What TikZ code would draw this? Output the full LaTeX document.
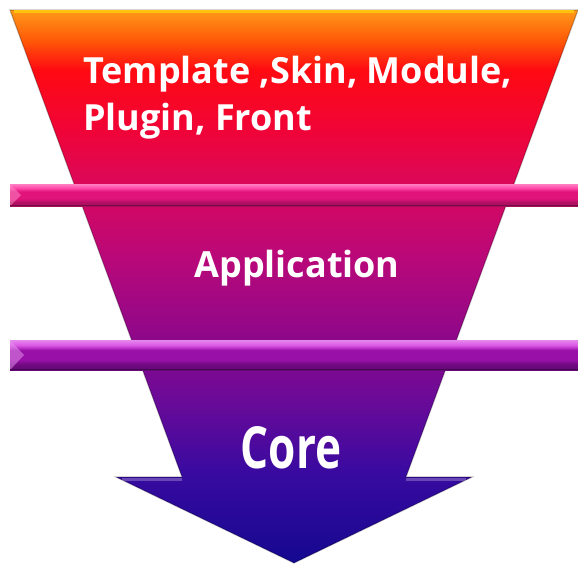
\documentclass[tikz,border=0pt]{standalone}
\usepackage{fontspec}
\newfontfamily\labelfont{Open Sans}
\newfontfamily\corefont[FakeStretch=0.76]{Open Sans}
\definecolor{f0}{HTML}{FF9A18}
\definecolor{f1}{HTML}{FF5A08}
\definecolor{f2}{HTML}{FF0A12}
\definecolor{f3}{HTML}{F00438}
\definecolor{f4}{HTML}{D8085E}
\definecolor{f5}{HTML}{B8087A}
\definecolor{f6}{HTML}{920888}
\definecolor{f7}{HTML}{6A0A98}
\definecolor{f8}{HTML}{3A0AA0}
\definecolor{f9}{HTML}{140890}
\definecolor{b1hi}{HTML}{FF48A8}
\definecolor{b1mid}{HTML}{E0147A}
\definecolor{b1lo}{HTML}{A80E5E}
\definecolor{b2hi}{HTML}{DA55E4}
\definecolor{b2mid}{HTML}{9810A8}
\definecolor{b2lo}{HTML}{640876}
\pgfdeclareverticalshading{funnelshade}{100bp}{color(0bp)=(f9); color(25bp)=(f9); color(33.4bp)=(f8); color(39.7bp)=(f7); color(46.1bp)=(f6); color(52.4bp)=(f5); color(58.7bp)=(f4); color(64.1bp)=(f3); color(69.6bp)=(f2); color(72.3bp)=(f1); color(75bp)=(f0); color(100bp)=(f0)}
\pgfdeclareverticalshading{barone}{100bp}{color(0bp)=(b1lo); color(25bp)=(b1lo); color(34bp)=(b1lo!80!b1mid); color(42bp)=(b1mid); color(58bp)=(b1mid); color(66bp)=(b1hi); color(75bp)=(b1hi!70!white); color(100bp)=(b1hi!70!white)}
\pgfdeclareverticalshading{bartwo}{100bp}{color(0bp)=(b2lo); color(25bp)=(b2lo); color(34bp)=(b2lo!80!b2mid); color(42bp)=(b2mid); color(58bp)=(b2mid); color(66bp)=(b2hi); color(75bp)=(b2hi!70!white); color(100bp)=(b2hi!70!white)}
\tikzset{
  lbl/.style={text=white, inner sep=0pt, font=\labelfont\bfseries\fontsize{36}{40}\selectfont},
  corelbl/.style={text=white, inner sep=0pt, font=\corefont\bfseries\fontsize{58}{62}\selectfont},
  edgeline/.style={draw=black, draw opacity=0.25, line width=1.2pt, line join=miter},
}
\begin{document}
\begin{tikzpicture}[x=1pt,y=-1pt]
\useasboundingbox (0,0) rectangle (578,566);
% funnel with arrow head
\path[shading=funnelshade, edgeline]
  (10,10) -- (578,10) -- (406,477) -- (472,477) -- (294,563) -- (116,477) -- (182,477) -- cycle;
\draw[color=f0!60!yellow, line width=2.5pt] (14,11.5) -- (574,11.5);
% bevel highlights on arrow wings
\draw[color=white, opacity=0.25, line width=3pt] (122,479) -- (182,479);
\draw[color=white, opacity=0.25, line width=3pt] (406,479) -- (466,479);
% bar 1
\path[shading=barone] (10,184) rectangle (578,206);
\fill[b1hi!60!white, opacity=0.5] (10,184) -- (21,195) -- (10,206) -- cycle;
\draw[b1lo!70!black, line width=1pt] (10,205.5) -- (578,205.5);
% bar 2
\path[shading=bartwo] (10,340) rectangle (578,370);
\fill[b2hi!60!white, opacity=0.5] (10,340) -- (24,355) -- (10,370) -- cycle;
\draw[b2lo!70!black, line width=1pt] (10,369.5) -- (578,369.5);
% labels
\node[lbl, anchor=base west] (t1) at (83,83) {Template ,Skin, Module,};
\node[lbl, anchor=base west] (t2) at (83,130) {Plugin, Front};
\node[lbl, anchor=base] (app) at (297,277) {Application};
\node[corelbl, anchor=base] (core) at (291,468) {Core};
\end{tikzpicture}
\end{document}
